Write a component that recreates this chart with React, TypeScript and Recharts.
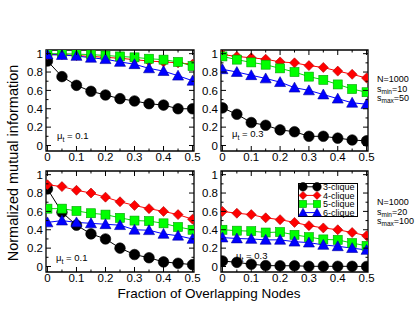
import React from 'react';
import { LineChart, Line, XAxis, YAxis, ReferenceArea, Legend } from 'recharts';

// fraction of overlapping nodes
const X_VALUES = [0, 0.05, 0.1, 0.15, 0.2, 0.25, 0.3, 0.35, 0.4, 0.45, 0.5];
const X_TICKS = [0, 0.05, 0.1, 0.15, 0.2, 0.25, 0.3, 0.35, 0.4, 0.45, 0.5];
const Y_TICKS = [0, 0.1, 0.2, 0.3, 0.4, 0.5, 0.6, 0.7, 0.8, 0.9, 1];
const SERIES_NAMES = ['3-clique', '4-clique', '5-clique', '6-clique'];
const MU_LABELS = ['0.1', '0.3', '0.1', '0.3'];
const N_LABEL = 'N=1000';
const SMIN_LABELS = ['10', '20'];
const SMAX_LABELS = ['50', '100'];

// top row: s_min=10, s_max=50
const tlClique3 = [0.92, 0.75, 0.655, 0.59, 0.55, 0.51, 0.485, 0.455, 0.44, 0.4, 0.4];
const tlClique4 = [0.99, 0.99, 0.98, 0.97, 0.96, 0.95, 0.935, 0.92, 0.91, 0.9, 0.885];
const tlClique5 = [1.0, 1.0, 0.995, 0.99, 0.98, 0.97, 0.96, 0.945, 0.935, 0.91, 0.865];
const tlClique6 = [0.99, 0.985, 0.975, 0.955, 0.94, 0.91, 0.885, 0.84, 0.81, 0.76, 0.705];

const trClique3 = [0.41, 0.34, 0.25, 0.22, 0.17, 0.15, 0.1, 0.1, 0.08, 0.06, 0.05];
const trClique4 = [0.99, 0.97, 0.955, 0.94, 0.91, 0.9, 0.87, 0.85, 0.81, 0.775, 0.735];
const trClique5 = [0.97, 0.935, 0.905, 0.88, 0.84, 0.8, 0.75, 0.715, 0.665, 0.615, 0.58];
const trClique6 = [0.83, 0.8, 0.765, 0.73, 0.69, 0.63, 0.6, 0.555, 0.51, 0.465, 0.45];

// bottom row: s_min=20, s_max=100
const blClique3 = [0.845, 0.59, 0.45, 0.355, 0.3, 0.2, 0.13, 0.095, 0.05, 0.035, 0.02];
const blClique4 = [0.89, 0.87, 0.83, 0.8, 0.755, 0.705, 0.665, 0.63, 0.6, 0.565, 0.515];
const blClique5 = [0.63, 0.63, 0.605, 0.58, 0.565, 0.53, 0.5, 0.495, 0.47, 0.43, 0.4];
const blClique6 = [0.48, 0.5, 0.48, 0.47, 0.46, 0.45, 0.4, 0.395, 0.355, 0.335, 0.3];

const brClique3 = [0.06, 0.045, 0.025, 0.01, 0.008, 0.008, 0.002, 0.002, 0.002, 0.002, 0.0];
const brClique4 = [0.6, 0.58, 0.565, 0.53, 0.51, 0.48, 0.445, 0.42, 0.4, 0.37, 0.335];
const brClique5 = [0.4, 0.39, 0.385, 0.37, 0.375, 0.345, 0.32, 0.295, 0.29, 0.255, 0.225];
const brClique6 = [0.315, 0.305, 0.3, 0.29, 0.29, 0.27, 0.26, 0.235, 0.22, 0.2, 0.18];

const PANEL_SERIES = [
  [tlClique3, tlClique4, tlClique5, tlClique6],
  [trClique3, trClique4, trClique5, trClique6],
  [blClique3, blClique4, blClique5, blClique6],
  [brClique3, brClique4, brClique5, brClique6],
];

const W = 415;
const H = 321;
const FONT = '"Liberation Sans", Arial, Helvetica, sans-serif';
const X_DOMAIN = [-0.005, 0.505];
const Y_DOMAIN = [-0.06, 1.04];

// plot frames in page pixels
const FRAMES = [
  { left: 46, right: 194, top: 50, bottom: 151 },
  { left: 221, right: 368, top: 50, bottom: 151 },
  { left: 46, right: 194, top: 171, bottom: 272 },
  { left: 221, right: 368, top: 171, bottom: 272 },
];

const STYLES = [
  { key: 'c3', kind: 'circle', color: '#000000', line: '#000000' },
  { key: 'c4', kind: 'diamond', color: '#ff0000', line: '#ff0000' },
  { key: 'c5', kind: 'square', color: '#00ff00', line: '#00dd00' },
  { key: 'c6', kind: 'triangle', color: '#0000ff', line: '#0000ff' },
];

function Marker({ kind, cx, cy, color, s = 1 }: any) {
  if (cx == null || cy == null) return null;
  if (kind === 'circle') {
    return <circle cx={cx} cy={cy} r={5.3 * s} fill={color} stroke="#000" strokeWidth={0.6} />;
  }
  if (kind === 'diamond') {
    const r = 5 * s;
    return (
      <polygon
        points={`${cx},${cy - r} ${cx + r},${cy} ${cx},${cy + r} ${cx - r},${cy}`}
        fill={color}
        stroke="#b00000"
        strokeWidth={0.6}
      />
    );
  }
  if (kind === 'square') {
    const r = 4.5 * s;
    return <rect x={cx - r} y={cy - r} width={2 * r} height={2 * r} fill={color} stroke="#00a000" strokeWidth={0.6} />;
  }
  const r = 5.5 * s;
  return (
    <polygon
      points={`${cx},${cy - r} ${cx + r},${cy + r * 0.8} ${cx - r},${cy + r * 0.8}`}
      fill={color}
      stroke="#0000a0"
      strokeWidth={0.6}
    />
  );
}

const fmt = (v: number) => (v === 0 ? '0' : v === 1 ? '1' : String(v));

function XTick(props: any) {
  const { x, y, payload, h } = props;
  const v = payload.value;
  const major = Math.round(v * 100) % 10 === 0;
  const len = major ? 5 : 2.5;
  return (
    <g>
      <line x1={x} x2={x} y1={y} y2={y - len} stroke="#000" strokeWidth={1} />
      <line x1={x} x2={x} y1={y - h} y2={y - h + len} stroke="#000" strokeWidth={1} />
      {major && (
        <text x={x} y={y + 10} textAnchor="middle" fontSize={11.5} fontFamily={FONT} fill="#000">
          {fmt(v)}
        </text>
      )}
    </g>
  );
}

function YTick(props: any) {
  const { x, y, payload, w } = props;
  const v = payload.value;
  const major = Math.round(v * 10) % 2 === 0;
  const len = major ? 5 : 2.5;
  return (
    <g>
      <line x1={x} x2={x + len} y1={y} y2={y} stroke="#000" strokeWidth={1} />
      <line x1={x + w} x2={x + w - len} y1={y} y2={y} stroke="#000" strokeWidth={1} />
      {major && (
        <text x={x - 3} y={y + 4.2} textAnchor="end" fontSize={11.5} fontFamily={FONT} fill="#000">
          {fmt(v)}
        </text>
      )}
    </g>
  );
}

function LegendBox({ payload }: any) {
  const items = payload || [];
  return (
    <svg width={60} height={34} style={{ overflow: 'visible', display: 'block' }}>
      <rect x={0.5} y={0.5} width={59} height={33} fill="#fff" stroke="#000" strokeWidth={1} />
      {items.map((it: any, i: number) => {
        const st = STYLES.find((s) => s.key === it.dataKey) || STYLES[i];
        const cy = 3.8 + i * 8.6;
        return (
          <g key={it.value}>
            <line x1={5} x2={19} y1={cy} y2={cy} stroke={st.line} strokeWidth={1} />
            <Marker kind={st.kind} cx={5} cy={cy} color={st.color} s={0.8} />
            <Marker kind={st.kind} cx={19} cy={cy} color={st.color} s={0.8} />
            <text x={25} y={cy + 3.2} fontSize={9} fontFamily={FONT} fill="#000">
              {it.value}
            </text>
          </g>
        );
      })}
    </svg>
  );
}

function Panel({ idx }: { idx: number }) {
  const f = FRAMES[idx];
  const series = PANEL_SERIES[idx];
  const rows = X_VALUES.map((x, i) => ({
    x,
    c3: series[0][i],
    c4: series[1][i],
    c5: series[2][i],
    c6: series[3][i],
  }));
  return (
    <div style={{ position: 'absolute', left: 0, top: 0 }}>
      <LineChart
        width={W}
        height={H}
        data={rows}
        margin={{ left: 0, top: f.top, right: W - f.right, bottom: 0 }}
      >
        <XAxis
          type="number"
          dataKey="x"
          domain={X_DOMAIN}
          ticks={X_TICKS}
          interval={0}
          height={H - f.bottom}
          tickSize={0}
          tickMargin={0}
          axisLine={false}
          tickLine={false}
          allowDataOverflow
          tick={(p: any) => <XTick {...p} h={f.bottom - f.top} />}
        />
        <YAxis
          type="number"
          domain={Y_DOMAIN}
          ticks={Y_TICKS}
          interval={0}
          width={f.left}
          tickSize={0}
          tickMargin={0}
          axisLine={false}
          tickLine={false}
          allowDataOverflow
          tick={(p: any) => <YTick {...p} w={f.right - f.left} />}
        />
        <ReferenceArea
          x1={X_DOMAIN[0]}
          x2={X_DOMAIN[1]}
          y1={Y_DOMAIN[0]}
          y2={Y_DOMAIN[1]}
          fill="none"
          fillOpacity={0}
          stroke="#000"
          strokeWidth={1.3}
          ifOverflow="visible"
        />
        {STYLES.map((st, i) => (
          <Line
            key={st.key}
            dataKey={st.key}
            name={SERIES_NAMES[i]}
            stroke={st.line}
            strokeWidth={1}
            isAnimationActive={false}
            dot={(p: any) => <Marker key={p.index} kind={st.kind} cx={p.cx} cy={p.cy} color={st.color} />}
            activeDot={false}
          />
        ))}
        {idx === 3 && (
          <Legend
            layout="vertical"
            align="center"
            verticalAlign="middle"
            content={(p: any) => <LegendBox {...p} />}
            wrapperStyle={{ left: 298, top: 183, width: 60, height: 34 }}
          />
        )}
      </LineChart>
    </div>
  );
}

const MU_POS = [
  { x: 57, y: 139 },
  { x: 232, y: 137 },
  { x: 56, y: 261 },
  { x: 236, y: 259 },
];

const NOTE_POS = [
  { x: 377, y: 82 },
  { x: 377, y: 205 },
];

export default function App() {
  return (
    <div style={{ position: 'absolute', left: 0, top: 0, width: W, height: H, background: '#fff' }}>
      {[0, 1, 2, 3].map((i) => (
        <Panel key={i} idx={i} />
      ))}
      <svg
        width={W}
        height={H}
        style={{ position: 'absolute', left: 0, top: 0, pointerEvents: 'none' }}
        fontFamily={FONT}
      >
        <text x={209} y={298} textAnchor="middle" fontSize={13.5} fill="#000">
          Fraction of Overlapping Nodes
        </text>
        <text x={18} y={163} textAnchor="middle" fontSize={14.5} fill="#000" transform="rotate(-90 18 163)">
          Normalized mutual information
        </text>
        {MU_POS.map((p, i) => (
          <text key={i} x={p.x} y={p.y} fontSize={9.5} fill="#000">
            μ<tspan fontSize={7} dy={2.5}>t</tspan>
            <tspan dy={-2.5}> = {MU_LABELS[i]}</tspan>
          </text>
        ))}
        {NOTE_POS.map((p, i) => (
          <g key={i} fontSize={9} fill="#000">
            <text x={p.x} y={p.y}>{N_LABEL}</text>
            <text x={p.x} y={p.y + 9.5}>
              s<tspan fontSize={6.5} dy={2}>min</tspan>
              <tspan dy={-2}>={SMIN_LABELS[i]}</tspan>
            </text>
            <text x={p.x} y={p.y + 19}>
              s<tspan fontSize={6.5} dy={2}>max</tspan>
              <tspan dy={-2}>={SMAX_LABELS[i]}</tspan>
            </text>
          </g>
        ))}
      </svg>
    </div>
  );
}
